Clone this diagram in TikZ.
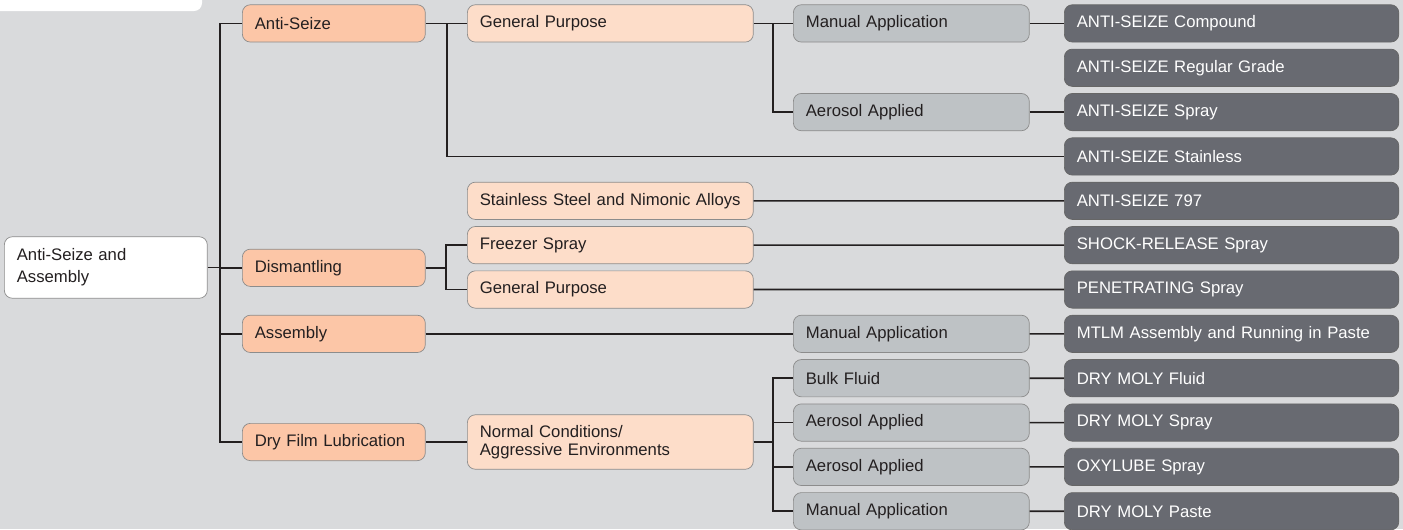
\documentclass[tikz,border=0pt]{standalone}
\usepackage{fontspec}
\setmainfont{Liberation Sans}
\definecolor{bgrey}{HTML}{D9DADC}
\definecolor{peach}{HTML}{FCC6A7}
\definecolor{lpeach}{HTML}{FDDDC9}
\definecolor{mgrey}{HTML}{BEC2C5}
\definecolor{dgrey}{HTML}{686A71}
\definecolor{ink}{HTML}{231F20}
\begin{document}
\begin{tikzpicture}[x=0.02cm, y=-0.02cm, font=\fontsize{9.5}{11.5}\selectfont, line width=0.9pt]
	\tikzset{box/.style={draw=black!45, line width=0.4pt, rounded corners=0.16cm, minimum height=0.746cm, inner xsep=0.25cm, inner ysep=0pt, align=left, anchor=west, text=ink},
		rootbox/.style={box, fill=white, text width=3.56cm, minimum height=1.23cm},
		grpbox/.style={box, fill=peach, text width=3.16cm},
		subbox/.style={box, fill=lpeach, text width=5.22cm},
		appbox/.style={box, fill=mgrey, text width=4.22cm},
		prodbox/.style={box, fill=dgrey, draw=black!60, text=white, text width=6.19cm},
		link/.style={draw=ink}}
	\fill[bgrey] (0,0) rectangle (1403,529);
	\useasboundingbox (0,0) rectangle (1403,529);
	% cut-off title box
	\fill[white, rounded corners=0.16cm] (-20,-20) rectangle (202,11);
	% nodes
	\node[rootbox] (root) at (4,267.5) {Anti-Seize and\\[1pt]Assembly};
	\node[grpbox] (as) at (242,23.4) {Anti-Seize};
	\node[grpbox] (dism) at (242,267.8) {Dismantling};
	\node[grpbox] (asm) at (242,333.85) {Assembly};
	\node[grpbox] (dfl) at (242,442) {Dry Film Lubrication};
	\node[subbox] (gpa) at (467,23.4) {General Purpose};
	\node[subbox] (ss) at (467,200.8) {Stainless Steel and Nimonic Alloys};
	\node[subbox] (fs) at (467,245.15) {Freezer Spray};
	\node[subbox] (gpb) at (467,289.5) {General Purpose};
	\node[subbox, minimum height=1.09cm] (nc) at (467,442) {Normal Conditions/\\[-1.5pt]Aggressive Environments};
	\node[appbox] (maa) at (793,23.4) {Manual Application};
	\node[appbox] (aaa) at (793,112.1) {Aerosol Applied};
	\node[appbox] (mab) at (793,333.85) {Manual Application};
	\node[appbox] (bf) at (793,378.2) {Bulk Fluid};
	\node[appbox] (aab) at (793,422.55) {Aerosol Applied};
	\node[appbox] (aac) at (793,466.9) {Aerosol Applied};
	\node[appbox] (mac) at (793,511.25) {Manual Application};
	\foreach \t [count=\i from 0] in {ANTI-SEIZE Compound, ANTI-SEIZE Regular Grade, ANTI-SEIZE Spray, ANTI-SEIZE Stainless, ANTI-SEIZE 797, SHOCK-RELEASE Spray, PENETRATING Spray, MTLM Assembly and Running in Paste, DRY MOLY Fluid, DRY MOLY Spray, OXYLUBE Spray, DRY MOLY Paste}
		\node[prodbox] (prod\i) at (1064,23.4+44.35*\i) {\t};
	% branch points
	\coordinate (trunk) at (220,267.5);
	\coordinate (bas) at (447,23.4);
	\coordinate (bdism) at (446,267.8);
	\coordinate (bgp) at (773,23.4);
	\coordinate (bnc) at (773,442);
	% connectors
	\draw[link] (root.east) -- (trunk);
	\draw[link] (as.west) -| (trunk) |- (dfl.west);
	\draw[link] (trunk) |- (dism.west);
	\draw[link] (trunk) |- (asm.west);
	\draw[link] (as.east) -- (gpa.west);
	\draw[link] (bas) |- (prod3.west);
	\draw[link] (dism.east) -- (bdism);
	\draw[link] (fs.west) -| (bdism) |- (gpb.west);
	\draw[link] (asm.east) -- (mab.west);
	\draw[link] (dfl.east) -- (nc.west);
	\draw[link] (ss.east) -- (prod4.west);
	\draw[link] (fs.east) -- (prod5.west);
	\draw[link] (gpb.east) -- (prod6.west);
	\draw[link] (gpa.east) -- (maa.west);
	\draw[link] (bgp) |- (aaa.west);
	\draw[link] (nc.east) -- (bnc);
	\draw[link] (bf.west) -| (bnc) |- (mac.west);
	\draw[link] (bnc) |- (aab.west);
	\draw[link] (bnc) |- (aac.west);
	\draw[link] (maa.east) -- (prod0.west);
	\draw[link] (aaa.east) -- (prod2.west);
	\draw[link] (mab.east) -- (prod7.west);
	\draw[link] (bf.east) -- (prod8.west);
	\draw[link] (aab.east) -- (prod9.west);
	\draw[link] (aac.east) -- (prod10.west);
	\draw[link] (mac.east) -- (prod11.west);
\end{tikzpicture}
\end{document}
